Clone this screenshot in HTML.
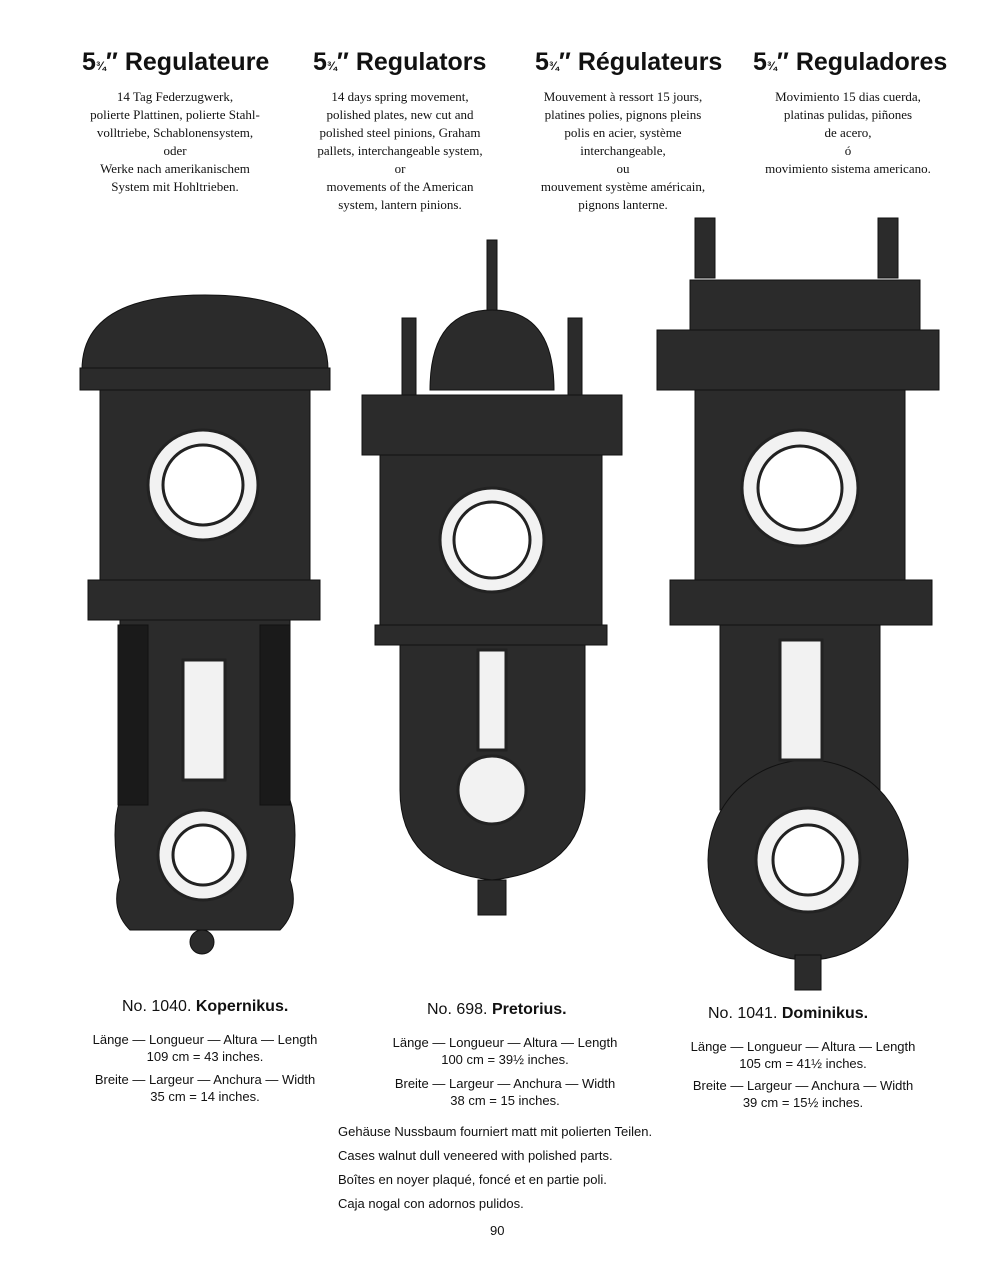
<!DOCTYPE html>
<html><head><meta charset="utf-8"><style>
body{margin:0;background:#fff;width:996px;height:1280px;position:relative;overflow:hidden;font-family:"Liberation Serif",serif;color:#111}
.h{position:absolute;top:48px;font-family:"Liberation Sans",sans-serif;font-weight:bold;font-size:25px;white-space:nowrap}
.t{position:absolute;font-size:13px;line-height:18px;text-align:center;white-space:nowrap}
.c{position:absolute;font-family:"Liberation Sans",sans-serif;font-size:13px;line-height:17px;text-align:center;white-space:nowrap}
.n{position:absolute;font-family:"Liberation Sans",sans-serif;font-size:16px;white-space:nowrap}
</style></head><body>
<div class="h" style="left:82px">5<small style="font-size:12px">¾</small>″ Regulateure</div>
<div class="h" style="left:313px">5<small style="font-size:12px">¾</small>″ Regulators</div>
<div class="h" style="left:535px">5<small style="font-size:12px">¾</small>″ Régulateurs</div>
<div class="h" style="left:753px">5<small style="font-size:12px">¾</small>″ Reguladores</div>
<div class="t" style="left:75px;width:200px;top:88px">14 Tag Federzugwerk,<br>polierte Plattinen, polierte Stahl-<br>volltriebe, Schablonensystem,<br>oder<br>Werke nach amerikanischem<br>System mit Hohltrieben.</div>
<div class="t" style="left:300px;width:200px;top:88px">14 days spring movement,<br>polished plates, new cut and<br>polished steel pinions, Graham<br>pallets, interchangeable system,<br>or<br>movements of the American<br>system, lantern pinions.</div>
<div class="t" style="left:523px;width:200px;top:88px">Mouvement à ressort 15 jours,<br>platines polies, pignons pleins<br>polis en acier, système<br>interchangeable,<br>ou<br>mouvement système américain,<br>pignons lanterne.</div>
<div class="t" style="left:748px;width:200px;top:88px">Movimiento 15 dias cuerda,<br>platinas pulidas, piñones<br>de acero,<br>ó<br>movimiento sistema americano.</div>

<svg width="996" height="1280" style="position:absolute;left:0;top:0">
<g fill="#2b2b2b" stroke="#111">
<!-- left clock -->
<path d="M82 370 Q82 295 205 295 Q328 295 328 370 Z"/>
<rect x="80" y="368" width="250" height="22"/>
<rect x="100" y="390" width="210" height="190"/>
<rect x="88" y="580" width="232" height="40"/>
<path d="M120 620 H290 V800 Q300 830 290 880 Q300 910 280 930 H130 Q110 910 120 880 Q110 830 120 800 Z"/>
<rect x="118" y="625" width="30" height="180" fill="#1a1a1a"/>
<rect x="260" y="625" width="30" height="180" fill="#1a1a1a"/>
<circle cx="202" cy="942" r="12"/>
<!-- middle -->
<rect x="487" y="240" width="10" height="80"/>
<path d="M430 390 Q430 310 492 310 Q554 310 554 390 Z"/>
<rect x="402" y="318" width="14" height="80"/><rect x="568" y="318" width="14" height="80"/>
<rect x="362" y="395" width="260" height="60"/>
<rect x="380" y="455" width="222" height="170"/>
<rect x="375" y="625" width="232" height="20"/>
<path d="M400 645 H585 V790 Q585 870 492 880 Q400 870 400 790 Z"/>
<rect x="478" y="880" width="28" height="35"/>
<!-- right -->
<rect x="695" y="218" width="20" height="60"/><rect x="878" y="218" width="20" height="60"/>
<rect x="690" y="280" width="230" height="50"/>
<rect x="657" y="330" width="282" height="60"/>
<rect x="695" y="390" width="210" height="200"/>
<rect x="670" y="580" width="262" height="45"/>
<rect x="720" y="625" width="160" height="185"/>
<circle cx="808" cy="860" r="100"/>
<rect x="795" y="955" width="26" height="35"/>
</g>
<g fill="#f2f2f2" stroke="#222" stroke-width="3">
<circle cx="203" cy="485" r="55"/><circle cx="203" cy="485" r="40" fill="#fff"/>
<rect x="183" y="660" width="42" height="120"/>
<circle cx="203" cy="855" r="45"/><circle cx="203" cy="855" r="30" fill="#fff"/>
<circle cx="492" cy="540" r="52"/><circle cx="492" cy="540" r="38" fill="#fff"/>
<rect x="478" y="650" width="28" height="100"/>
<circle cx="492" cy="790" r="34"/>
<circle cx="800" cy="488" r="58"/><circle cx="800" cy="488" r="42" fill="#fff"/>
<rect x="780" y="640" width="42" height="120"/>
<circle cx="808" cy="860" r="52"/><circle cx="808" cy="860" r="35" fill="#fff"/>
</g>
</svg>

<div class="n" style="left:122px;top:998px">No. 1040. <b>Kopernikus.</b></div>
<div class="c" style="left:80px;width:250px;top:1031px">Länge — Longueur — Altura — Length<br>109 cm = 43 inches.</div>
<div class="c" style="left:80px;width:250px;top:1071px">Breite — Largeur — Anchura — Width<br>35 cm = 14 inches.</div>
<div class="n" style="left:427px;top:1001px">No. 698. <b>Pretorius.</b></div>
<div class="c" style="left:380px;width:250px;top:1034px">Länge — Longueur — Altura — Length<br>100 cm = 39½ inches.</div>
<div class="c" style="left:380px;width:250px;top:1075px">Breite — Largeur — Anchura — Width<br>38 cm = 15 inches.</div>
<div class="n" style="left:708px;top:1005px">No. 1041. <b>Dominikus.</b></div>
<div class="c" style="left:678px;width:250px;top:1038px">Länge — Longueur — Altura — Length<br>105 cm = 41½ inches.</div>
<div class="c" style="left:678px;width:250px;top:1077px">Breite — Largeur — Anchura — Width<br>39 cm = 15½ inches.</div>
<div class="c" style="left:338px;top:1120px;text-align:left;line-height:24px">Gehäuse Nussbaum fourniert matt mit polierten Teilen.<br>Cases walnut dull veneered with polished parts.<br>Boîtes en noyer plaqué, foncé et en partie poli.<br>Caja nogal con adornos pulidos.</div>
<div class="c" style="left:490px;top:1222px">90</div>
</body></html>
